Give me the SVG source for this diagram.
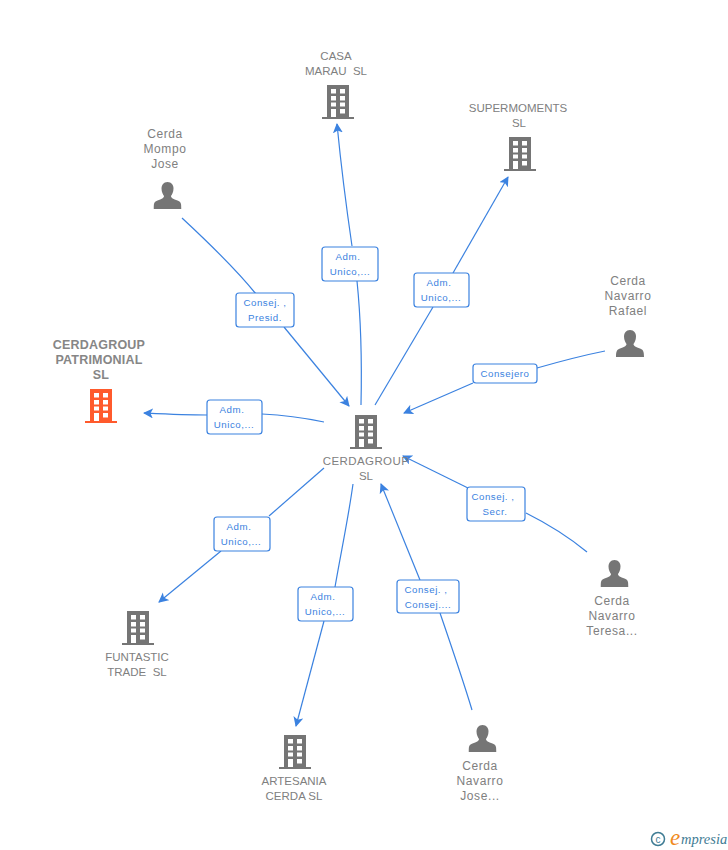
<svg xmlns="http://www.w3.org/2000/svg" width="728" height="850" viewBox="0 0 728 850">
<style>
text{font-family:"Liberation Sans",Arial,sans-serif;white-space:pre}
.n{font-size:11.500px;fill:#808080;text-anchor:middle}
.p{font-size:12px;letter-spacing:.6px;fill:#808080;text-anchor:middle}
.h{font-size:12.500px;font-weight:bold;letter-spacing:.2px;fill:#868686;text-anchor:middle}
.l{font-size:9.700px;letter-spacing:.55px;fill:#3b82e0;text-anchor:middle}
.b{fill:#fff;stroke:#3b82e0;stroke-width:1.200}
.s{fill:none;stroke:#3b82e0;stroke-width:1.200}
.c{marker-end:url(#a)}
</style>
<defs>
<marker id="a" markerUnits="userSpaceOnUse" markerWidth="12" markerHeight="12" refX="9" refY="5" orient="auto"><path d="M0 0L10 5L0 10L2.500 5Z" fill="#3b82e0"/></marker>
<symbol id="bld" viewBox="0 0 32 34"><path fill-rule="evenodd" fill="currentColor" d="M5 0H27V32H32V34H0V32H5ZM9 4V8.500H14V4ZM18 4V8.500H23V4ZM9 11V15.500H14V11ZM18 11V15.500H23V11ZM9 17.500V21.500H14V17.500ZM18 17.500V21.500H23V17.500ZM9 24V32H14V24ZM18 24V28.500H23V24Z"/></symbol>
<symbol id="per" viewBox="0 0 28 27"><path fill="#757575" d="M14 0C18 0 20 3 20 6.500C20 10 18.500 12.500 17.500 14C17.500 16 20 17 24 18.500C27 19.500 28 21 28 27H0C0 21 1 19.500 4 18.500C8 17 10.500 16 10.500 14C9.500 12.500 8 10 8 6.500C8 3 10 0 14 0Z"/></symbol>
</defs>
<g id="connectors">
<path class="s c" d="M352 246C346 205 341 165 337 124"/>
<path class="s" d="M361 405C362 360 361 320 357 281"/>
<path class="s" d="M375 405L433 307"/>
<path class="s c" d="M453 273L508 177"/>
<path class="s" d="M605 351C580 356 558 362 537 368"/>
<path class="s c" d="M473 383L404 413"/>
<path class="s" d="M182 218C210 244 235 268 256 294"/>
<path class="s c" d="M284 327L349 406"/>
<path class="s" d="M324 422C305 418 285 415 262 414"/>
<path class="s c" d="M207 415C185 415 165 414 144 413"/>
<path class="s" d="M324 468L269 516"/>
<path class="s c" d="M221 551L159 602"/>
<path class="s" d="M353 484C348 520 341 552 335 587"/>
<path class="s c" d="M324 621L296 726"/>
<path class="s" d="M472 710C463 680 451 645 440 613"/>
<path class="s c" d="M420 580L381 484"/>
<path class="s" d="M587 552C570 538 548 524 526 513"/>
<path class="s c" d="M468 488L403 456"/>
</g>
<g id="edge-labels">
<g><rect class="b" x="322" y="247" width="56" height="34" rx="3"/><text class="l" x="348" y="260">Adm.</text><text class="l" x="350" y="275">Unico,...</text></g>
<g><rect class="b" x="414" y="273" width="55" height="34" rx="3"/><text class="l" x="439" y="286">Adm.</text><text class="l" x="441" y="301">Unico,...</text></g>
<g><rect class="b" x="473" y="364" width="64" height="19" rx="3"/><text class="l" x="505" y="377">Consejero</text></g>
<g><rect class="b" x="236" y="293" width="58" height="34" rx="3"/><text class="l" x="265" y="306">Consej. ,</text><text class="l" x="265" y="321">Presid.</text></g>
<g><rect class="b" x="207" y="400" width="55" height="34" rx="3"/><text class="l" x="232" y="413">Adm.</text><text class="l" x="234" y="428">Unico,...</text></g>
<g><rect class="b" x="467" y="487" width="58" height="34" rx="3"/><text class="l" x="493" y="500">Consej. ,</text><text class="l" x="495" y="515">Secr.</text></g>
<g><rect class="b" x="214" y="517" width="56" height="34" rx="3"/><text class="l" x="239" y="530">Adm.</text><text class="l" x="241" y="545">Unico,...</text></g>
<g><rect class="b" x="298" y="587" width="55" height="34" rx="3"/><text class="l" x="323" y="600">Adm.</text><text class="l" x="325" y="615">Unico,...</text></g>
<g><rect class="b" x="397" y="580" width="62" height="33" rx="3"/><text class="l" x="426" y="593">Consej. ,</text><text class="l" x="428" y="608">Consej....</text></g>
</g>
<g id="node-center" color="#757575"><use href="#bld" x="350" y="415" width="32" height="34"/><text class="n" x="366" y="465" style="letter-spacing:.4px">CERDAGROUP</text><text class="n" x="366" y="480">SL</text></g>
<g id="node-casa" color="#757575"><text class="n" x="336" y="60">CASA</text><text class="n" x="336" y="75">MARAU  SL</text><use href="#bld" x="322" y="85" width="32" height="34"/></g>
<g id="node-supermoments" color="#757575"><text class="n" x="518" y="112">SUPERMOMENTS</text><text class="n" x="519" y="127">SL</text><use href="#bld" x="504" y="137" width="32" height="34"/></g>
<g id="node-patrimonial" color="#ff5a2c"><text class="h" x="99" y="349">CERDAGROUP</text><text class="h" x="99" y="364">PATRIMONIAL</text><text class="h" x="101" y="379">SL</text><use href="#bld" x="85" y="389" width="32" height="34"/></g>
<g id="node-funtastic" color="#757575"><use href="#bld" x="122" y="611" width="32" height="34"/><text class="n" x="137" y="661">FUNTASTIC</text><text class="n" x="137" y="676">TRADE  SL</text></g>
<g id="node-artesania" color="#757575"><use href="#bld" x="279" y="735" width="32" height="34"/><text class="n" x="294" y="785">ARTESANIA</text><text class="n" x="294" y="800">CERDA SL</text></g>
<g id="node-mompo"><text class="p" x="165" y="138">Cerda</text><text class="p" x="165" y="153">Mompo</text><text class="p" x="165" y="168">Jose</text><use href="#per" x="153.500" y="182" width="28" height="27"/></g>
<g id="node-rafael"><text class="p" x="628" y="285">Cerda</text><text class="p" x="628" y="300">Navarro</text><text class="p" x="628" y="315">Rafael</text><use href="#per" x="616" y="330" width="28" height="27"/></g>
<g id="node-teresa"><use href="#per" x="600.500" y="560" width="28" height="27"/><text class="p" x="612" y="605">Cerda</text><text class="p" x="612" y="620">Navarro</text><text class="p" x="612" y="635">Teresa...</text></g>
<g id="node-jose"><use href="#per" x="468.500" y="725" width="28" height="27"/><text class="p" x="480" y="770">Cerda</text><text class="p" x="480" y="785">Navarro</text><text class="p" x="480" y="800">Jose...</text></g>
<g id="logo"><circle cx="658" cy="839" r="6.500" fill="none" stroke="#3f7c94" stroke-width="1.500"/><text x="658" y="842.500" font-size="10" fill="#3f7c94" text-anchor="middle">c</text><text x="670" y="845" font-size="23" font-style="italic" fill="#f08a1d" style="font-family:'Liberation Serif',serif">e</text><text x="681" y="844" font-size="14.500" font-style="italic" fill="#3f7c94" style="font-family:'Liberation Serif',serif">mpresia</text></g>
</svg>
